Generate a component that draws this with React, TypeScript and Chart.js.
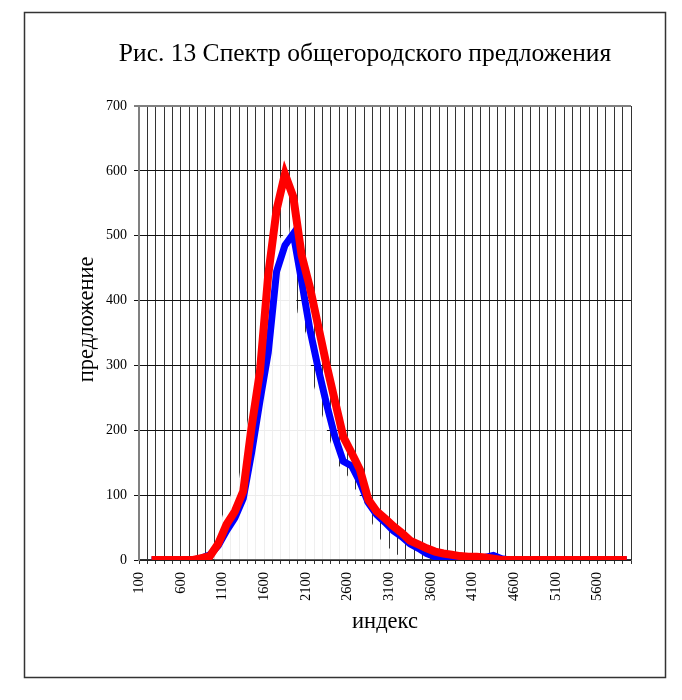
import { useEffect, useRef } from "react"
import { Chart, registerables } from "chart.js"

Chart.register(...registerables)

const serif = "'Liberation Serif', 'Times New Roman', serif"

const chartTitle = "Рис. 13 Спектр общегородского предложения"
const yTitle = "предложение"
const xTitle = "индекс"

// bin centres of the spectrum (index)
const binCenters = [
  250, 350, 450, 550, 650, 750, 850, 950, 1050, 1150,
  1250, 1350, 1450, 1550, 1650, 1750, 1850, 1950, 2050, 2150,
  2250, 2350, 2450, 2550, 2650, 2750, 2850, 2950, 3050, 3150,
  3250, 3350, 3450, 3550, 3650, 3750, 3850, 3950, 4050, 4150,
  4250, 4350, 4450, 4550, 4650, 4750, 4850, 4950, 5050, 5150,
  5250, 5350, 5450, 5550, 5650, 5750, 5850, 5950,
]

const redSeries = [
  0, 0, 0, 0, 0, 0, 3, 6, 25, 55,
  75, 106, 205, 290, 440, 540, 595, 560, 470, 420,
  360, 300, 245, 190, 165, 139, 93, 75, 64, 52,
  42, 30, 24, 18, 13, 10, 8, 6, 5, 5,
  4, 2, 0, 0, 0, 0, 0, 0, 0, 0,
  0, 0, 0, 0, 0, 0, 0, 0,
]

const blueSeries = [
  0, 0, 0, 0, 0, 0, 3, 8, 22, 45,
  65, 95, 165, 245, 320, 445, 485, 503, 430, 355,
  295, 240, 190, 152, 145, 120, 88, 70, 58, 45,
  36, 25, 18, 10, 5, 2, 1, 0, 0, 0,
  4, 7, 2, 0, 0, 0, 0, 0, 0, 0,
  0, 0, 0, 0, 0, 0, 0, 0,
]

// white area under the peak that hides the grid
const maskX = [
  1000, 1100, 1200, 1300, 1400, 1500, 1600, 1700, 1800, 1900,
  2000, 2100, 2200, 2300, 2400, 2500, 2600, 2700, 2800, 2900,
  3000, 3100, 3200, 3300,
]
const maskSeries = [
  10, 68, 100, 126, 211, 285, 411, 521, 496, 513,
  382, 350, 267, 222, 180, 145, 130, 108, 90, 55,
  31, 18, 8, 0,
]

const xLabels = [100, 600, 1100, 1600, 2100, 2600, 3100, 3600, 4100, 4600, 5100, 5600]

const framePlugin = {
  id: "frame",
  afterDraw(chart: Chart) {
    const { ctx, chartArea } = chart
    ctx.save()
    ctx.strokeStyle = "#333"
    ctx.lineWidth = 1.5
    ctx.strokeRect(24.5, 12.5, 641, 665)

    ctx.fillStyle = "#000"
    ctx.textAlign = "center"
    ctx.textBaseline = "middle"
    ctx.font = `25.5px ${serif}`
    ctx.fillText(chartTitle, chart.width / 2 + 24, 54)

    ctx.translate(chartArea.left - 52, chartArea.top + chartArea.height * 0.47)
    ctx.rotate(-Math.PI / 2)
    ctx.font = `22.5px ${serif}`
    ctx.fillText(yTitle, 0, 0)
    ctx.restore()
  },
}

export default function App() {
  const chartRef = useRef<HTMLCanvasElement>(null)
  const chartInstance = useRef<Chart | null>(null)

  useEffect(() => {
    if (!chartRef.current) return
    if (chartInstance.current) chartInstance.current.destroy()

    chartInstance.current = new Chart(chartRef.current, {
      type: "line",
      data: {
        datasets: [
          {
            label: "red",
            data: binCenters.map((x, i) => ({ x, y: redSeries[i] })),
            borderColor: "#ff0000",
            borderWidth: 8,
            pointRadius: 0,
            fill: false,
            tension: 0,
          },
          {
            label: "blue",
            data: binCenters.map((x, i) => ({ x, y: blueSeries[i] })),
            borderColor: "#0000ff",
            borderWidth: 7,
            pointRadius: 0,
            fill: false,
            tension: 0,
          },
          {
            label: "mask",
            data: maskX.map((x, i) => ({ x, y: maskSeries[i] })),
            borderColor: "transparent",
            borderWidth: 0,
            backgroundColor: "rgba(255,255,255,0.92)",
            pointRadius: 0,
            fill: { value: 1 },
            tension: 0,
          },
        ],
      },
      options: {
        animation: false,
        responsive: true,
        maintainAspectRatio: false,
        layout: { padding: { left: 60, right: 51, top: 106, bottom: 56 } },
        plugins: {
          legend: { display: false },
          tooltip: { enabled: false },
          title: { display: false },
        },
        scales: {
          x: {
            type: "linear",
            min: 100,
            max: 6000,
            afterFit: (scale) => {
              scale.height = 84
            },
            ticks: {
              stepSize: 100,
              autoSkip: false,
              maxRotation: 90,
              minRotation: 90,
              padding: 8,
              color: "#000",
              font: { family: serif, size: 14.5 },
              callback: (value) => (xLabels.includes(Number(value)) ? String(value) : ""),
            },
            grid: { color: "#333", lineWidth: 1, tickLength: 4 },
            border: { color: "#333", width: 1.5 },
            title: {
              display: true,
              text: xTitle,
              color: "#000",
              font: { family: serif, size: 22.5 },
              padding: { top: 0, bottom: 8 },
            },
          },
          y: {
            min: 0,
            max: 700,
            afterFit: (scale) => {
              scale.width = 79
            },
            ticks: {
              stepSize: 100,
              padding: 7,
              color: "#000",
              font: { family: serif, size: 14 },
            },
            grid: {
              color: (ctx) => (ctx.tick && ctx.tick.value === 700 ? "#808080" : "#111"),
              lineWidth: (ctx) => (ctx.tick && ctx.tick.value === 700 ? 2 : 1),
              tickLength: 5,
            },
            border: { color: "#808080", width: 2 },
          },
        },
      },
      plugins: [framePlugin],
    })

    return () => {
      if (chartInstance.current) {
        chartInstance.current.destroy()
        chartInstance.current = null
      }
    }
  }, [])

  return (
    <div style={{ position: "absolute", left: 0, top: 0, width: 682, height: 700, background: "#fff" }}>
      <canvas ref={chartRef}></canvas>
    </div>
  )
}
